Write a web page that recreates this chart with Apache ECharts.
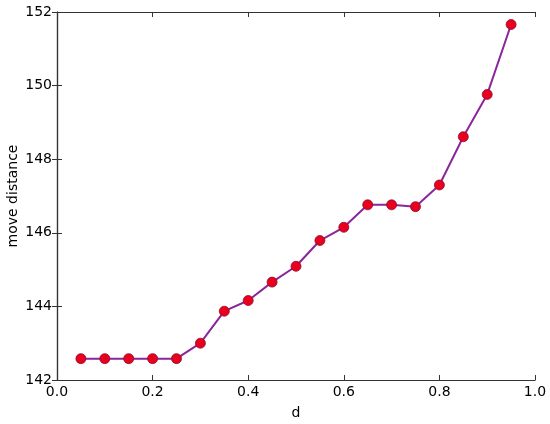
<!DOCTYPE html>
<html><head><meta charset="utf-8">
<script src="https://cdn.jsdelivr.net/npm/echarts@6/dist/echarts.min.js"></script>
<style>html,body{margin:0;padding:0;background:#fff}#c{width:550px;height:424px}</style>
</head><body><div id="c"></div>
<script>
const dValues = [0.05,0.10,0.15,0.20,0.25,0.30,0.35,0.40,0.45,0.50,0.55,0.60,0.65,0.70,0.75,0.80,0.85,0.90,0.95];
const moveDistance = [142.58,142.58,142.58,142.58,142.58,143.00,143.87,144.16,144.66,145.09,145.79,146.15,146.76,146.76,146.71,147.30,148.61,149.76,151.66];
const xTickLabels = ['0.0','0.2','0.4','0.6','0.8','1.0'];
const yTickLabels = ['142','144','146','148','150','152'];

const font = 'DejaVu Sans';
const chart = echarts.init(document.getElementById('c'), null, {renderer:'canvas'});
const axisLine = {show:true, lineStyle:{color:'#333', width:1.2}};
const tick = {show:true, inside:true, length:5, lineStyle:{color:'#333'}};
chart.setOption({
  animation:false,
  grid:{left:57, right:15, top:12, bottom:44, show:false, containLabel:false, outerBoundsMode:'none'},
  xAxis:[{
    type:'value', min:0, max:1, interval:0.2, position:'bottom',
    name:'d', nameLocation:'middle', nameGap:26, nameMoveOverlap:false,
    nameTextStyle:{fontFamily:font, fontSize:14, color:'#000'},
    axisLine, axisTick:tick, splitLine:{show:false},
    axisLabel:{fontFamily:font, fontSize:14, color:'#000', margin:5,
      formatter:(v)=>xTickLabels[Math.round(v/0.2)]}
  },{
    type:'value', min:0, max:1, interval:0.2, position:'top',
    axisLine, axisTick:tick, splitLine:{show:false}, axisLabel:{show:false}
  }],
  yAxis:[{
    type:'value', min:142, max:152, interval:2, position:'left',
    name:'move distance', nameLocation:'middle', nameGap:37, nameMoveOverlap:false,
    nameTextStyle:{fontFamily:font, fontSize:14, color:'#000'},
    axisLine, axisTick:tick, splitLine:{show:false},
    axisLabel:{fontFamily:font, fontSize:14, color:'#000', margin:5,
      formatter:(v)=>yTickLabels[Math.round((v-142)/2)]}
  },{
    type:'value', min:142, max:152, interval:2, position:'right',
    axisLine, axisTick:tick, splitLine:{show:false}, axisLabel:{show:false}
  }],
  series:[{
    type:'line',
    data:dValues.map((d,i)=>[d,moveDistance[i]]),
    lineStyle:{color:'#8B259B', width:2},
    symbol:'circle', symbolSize:10,
    itemStyle:{color:'#E8001E', borderColor:'#8A1030', borderWidth:0.8},
    z:5
  }]
});
</script></body></html>
